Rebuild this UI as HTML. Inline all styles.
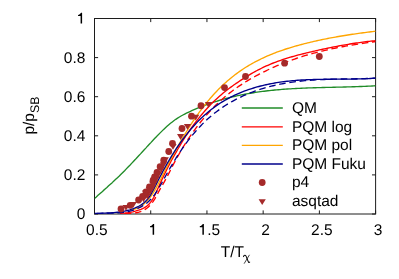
<!DOCTYPE html>
<html><head><meta charset="utf-8"><title>plot</title>
<style>html,body{margin:0;padding:0;background:#fff;overflow:hidden}body{width:399px;height:279px;position:relative;font-family:"Liberation Sans",sans-serif}</style></head>
<body>
<svg width="399" height="279" viewBox="0 0 399 279" style="position:absolute;left:0;top:0">
<filter id="g" x="0" y="0" width="399" height="279" filterUnits="userSpaceOnUse"><feOffset dx="0" dy="0"/></filter>
<rect width="399" height="279" fill="#fff"/>
<g stroke="#1c1c1c" stroke-width="1" fill="none">
<rect x="94.5" y="18.5" width="281.1" height="195.5"/>
<path d="M94.50,214.0 v-3.6 M94.50,18.5 v3.6"/>
<path d="M150.72,214.0 v-3.6 M150.72,18.5 v3.6"/>
<path d="M206.94,214.0 v-3.6 M206.94,18.5 v3.6"/>
<path d="M263.16,214.0 v-3.6 M263.16,18.5 v3.6"/>
<path d="M319.38,214.0 v-3.6 M319.38,18.5 v3.6"/>
<path d="M375.60,214.0 v-3.6 M375.60,18.5 v3.6"/>
<path d="M94.5,214.00 h3.6 M375.6,214.00 h-3.6"/>
<path d="M94.5,174.90 h3.6 M375.6,174.90 h-3.6"/>
<path d="M94.5,135.80 h3.6 M375.6,135.80 h-3.6"/>
<path d="M94.5,96.70 h3.6 M375.6,96.70 h-3.6"/>
<path d="M94.5,57.60 h3.6 M375.6,57.60 h-3.6"/>
<path d="M94.5,18.50 h3.6 M375.6,18.50 h-3.6"/>
</g>
<clipPath id="c"><rect x="94.5" y="18.5" width="281.1" height="196.10"/></clipPath>
<g clip-path="url(#c)" fill="none" stroke-width="1.35" stroke-linejoin="round">
<path d="M94.5,198.46 L96.3,196.89 L98.0,195.33 L99.8,193.77 L101.6,192.20 L103.3,190.63 L105.1,189.05 L106.9,187.46 L108.6,185.86 L110.4,184.25 L112.2,182.63 L113.9,180.98 L115.7,179.32 L117.5,177.65 L119.3,175.94 L121.0,174.22 L122.8,172.47 L124.6,170.69 L126.3,168.89 L128.1,167.06 L129.9,165.22 L131.6,163.36 L133.4,161.48 L135.2,159.58 L136.9,157.68 L138.7,155.77 L140.5,153.85 L142.2,151.93 L144.0,150.01 L145.8,148.09 L147.5,146.17 L149.3,144.26 L151.1,142.36 L152.8,140.46 L154.6,138.59 L156.4,136.73 L158.1,134.91 L159.9,133.11 L161.7,131.36 L163.4,129.64 L165.2,127.98 L167.0,126.37 L168.8,124.82 L170.5,123.33 L172.3,121.92 L174.1,120.58 L175.8,119.32 L177.6,118.15 L179.4,117.04 L181.1,116.00 L182.9,115.02 L184.7,114.09 L186.4,113.20 L188.2,112.35 L190.0,111.52 L191.7,110.72 L193.5,109.93 L195.3,109.16 L197.0,108.41 L198.8,107.68 L200.6,106.96 L202.3,106.27 L204.1,105.59 L205.9,104.93 L207.6,104.28 L209.4,103.65 L211.2,103.04 L213.0,102.44 L214.7,101.87 L216.5,101.30 L218.3,100.75 L220.0,100.22 L221.8,99.70 L223.6,99.20 L225.3,98.71 L227.1,98.24 L228.9,97.78 L230.6,97.34 L232.4,96.90 L234.2,96.49 L235.9,96.08 L237.7,95.69 L239.5,95.31 L241.2,94.94 L243.0,94.59 L244.8,94.25 L246.5,93.91 L248.3,93.60 L250.1,93.29 L251.8,92.99 L253.6,92.71 L255.4,92.43 L257.1,92.17 L258.9,91.91 L260.7,91.67 L262.5,91.43 L264.2,91.21 L266.0,90.99 L267.8,90.78 L269.5,90.58 L271.3,90.39 L273.1,90.21 L274.8,90.04 L276.6,89.87 L278.4,89.71 L280.1,89.56 L281.9,89.42 L283.7,89.28 L285.4,89.15 L287.2,89.03 L289.0,88.91 L290.7,88.80 L292.5,88.69 L294.3,88.59 L296.0,88.50 L297.8,88.41 L299.6,88.32 L301.3,88.24 L303.1,88.16 L304.9,88.09 L306.7,88.02 L308.4,87.95 L310.2,87.89 L312.0,87.83 L313.7,87.77 L315.5,87.72 L317.3,87.67 L319.0,87.62 L320.8,87.57 L322.6,87.53 L324.3,87.48 L326.1,87.44 L327.9,87.40 L329.6,87.35 L331.4,87.31 L333.2,87.27 L334.9,87.23 L336.7,87.19 L338.5,87.15 L340.2,87.11 L342.0,87.07 L343.8,87.02 L345.5,86.98 L347.3,86.93 L349.1,86.88 L350.8,86.83 L352.6,86.77 L354.4,86.72 L356.2,86.66 L357.9,86.60 L359.7,86.53 L361.5,86.46 L363.2,86.39 L365.0,86.32 L366.8,86.23 L368.5,86.15 L370.3,86.06 L372.1,85.97 L373.8,85.87 L375.6,85.76" stroke="#208c28"/>
<path d="M120.0,213.37 L121.6,213.29 L123.2,213.18 L124.8,213.05 L126.4,212.87 L128.0,212.67 L129.6,212.42 L131.3,212.13 L132.9,211.79 L134.5,211.40 L136.1,210.97 L137.7,210.47 L139.3,209.92 L140.9,209.30 L142.5,208.62 L144.1,207.84 L145.7,206.90 L147.3,205.72 L148.9,204.24 L150.5,202.37 L152.2,200.06 L153.8,197.24 L155.4,194.00 L157.0,190.51 L158.6,186.92 L160.2,183.37 L161.8,179.89 L163.4,176.49 L165.0,173.16 L166.6,169.90 L168.2,166.72 L169.8,163.60 L171.4,160.55 L173.0,157.57 L174.7,154.65 L176.3,151.80 L177.9,149.01 L179.5,146.29 L181.1,143.63 L182.7,141.02 L184.3,138.48 L185.9,135.99 L187.5,133.57 L189.1,131.20 L190.7,128.89 L192.3,126.63 L193.9,124.43 L195.6,122.28 L197.2,120.18 L198.8,118.14 L200.4,116.15 L202.0,114.21 L203.6,112.33 L205.2,110.49 L206.8,108.70 L208.4,106.96 L210.0,105.26 L211.6,103.62 L213.2,102.01 L214.8,100.46 L216.5,98.95 L218.1,97.48 L219.7,96.05 L221.3,94.67 L222.9,93.32 L224.5,92.02 L226.1,90.75 L227.7,89.50 L229.3,88.29 L230.9,87.11 L232.5,85.95 L234.1,84.80 L235.7,83.68 L237.4,82.58 L239.0,81.49 L240.6,80.41 L242.2,79.36 L243.8,78.32 L245.4,77.30 L247.0,76.30 L248.6,75.31 L250.2,74.35 L251.8,73.41 L253.4,72.49 L255.0,71.60 L256.6,70.72 L258.2,69.87 L259.9,69.05 L261.5,68.24 L263.1,67.46 L264.7,66.71 L266.3,65.97 L267.9,65.26 L269.5,64.57 L271.1,63.90 L272.7,63.25 L274.3,62.62 L275.9,62.01 L277.5,61.41 L279.1,60.83 L280.8,60.27 L282.4,59.73 L284.0,59.19 L285.6,58.68 L287.2,58.17 L288.8,57.68 L290.4,57.20 L292.0,56.74 L293.6,56.28 L295.2,55.84 L296.8,55.40 L298.4,54.97 L300.0,54.55 L301.7,54.14 L303.3,53.73 L304.9,53.34 L306.5,52.94 L308.1,52.55 L309.7,52.17 L311.3,51.79 L312.9,51.41 L314.5,51.04 L316.1,50.67 L317.7,50.31 L319.3,49.95 L320.9,49.59 L322.6,49.24 L324.2,48.89 L325.8,48.55 L327.4,48.22 L329.0,47.89 L330.6,47.56 L332.2,47.24 L333.8,46.92 L335.4,46.61 L337.0,46.30 L338.6,46.00 L340.2,45.70 L341.8,45.41 L343.4,45.13 L345.1,44.85 L346.7,44.57 L348.3,44.30 L349.9,44.04 L351.5,43.78 L353.1,43.53 L354.7,43.28 L356.3,43.04 L357.9,42.81 L359.5,42.58 L361.1,42.36 L362.7,42.14 L364.3,41.93 L366.0,41.73 L367.6,41.53 L369.2,41.34 L370.8,41.15 L372.4,40.97 L374.0,40.80 L375.6,40.63" stroke="#ff0000"/>
<path d="M123.0,213.34 L124.6,213.37 L126.2,213.39 L127.8,213.40 L129.4,213.38 L130.9,213.32 L132.5,213.21 L134.1,213.05 L135.7,212.81 L137.3,212.49 L138.9,212.09 L140.5,211.58 L142.1,210.97 L143.7,210.23 L145.2,209.33 L146.8,208.24 L148.4,206.94 L150.0,205.38 L151.6,203.53 L153.2,201.36 L154.8,198.84 L156.4,195.97 L158.0,193.00 L159.5,190.15 L161.1,187.40 L162.7,184.65 L164.3,181.81 L165.9,178.88 L167.5,175.88 L169.1,172.83 L170.7,169.76 L172.2,166.68 L173.8,163.63 L175.4,160.62 L177.0,157.68 L178.6,154.82 L180.2,152.04 L181.8,149.34 L183.4,146.71 L185.0,144.15 L186.5,141.66 L188.1,139.23 L189.7,136.86 L191.3,134.54 L192.9,132.28 L194.5,130.08 L196.1,127.92 L197.7,125.82 L199.3,123.77 L200.8,121.77 L202.4,119.81 L204.0,117.91 L205.6,116.05 L207.2,114.24 L208.8,112.47 L210.4,110.75 L212.0,109.07 L213.6,107.43 L215.1,105.83 L216.7,104.27 L218.3,102.76 L219.9,101.28 L221.5,99.83 L223.1,98.43 L224.7,97.06 L226.3,95.72 L227.9,94.42 L229.4,93.15 L231.0,91.91 L232.6,90.70 L234.2,89.53 L235.8,88.38 L237.4,87.26 L239.0,86.16 L240.6,85.09 L242.2,84.05 L243.7,83.03 L245.3,82.04 L246.9,81.06 L248.5,80.11 L250.1,79.18 L251.7,78.26 L253.3,77.37 L254.9,76.49 L256.4,75.63 L258.0,74.78 L259.6,73.95 L261.2,73.14 L262.8,72.33 L264.4,71.54 L266.0,70.77 L267.6,70.01 L269.2,69.26 L270.7,68.53 L272.3,67.81 L273.9,67.10 L275.5,66.41 L277.1,65.73 L278.7,65.06 L280.3,64.41 L281.9,63.76 L283.5,63.13 L285.0,62.51 L286.6,61.90 L288.2,61.31 L289.8,60.72 L291.4,60.15 L293.0,59.59 L294.6,59.04 L296.2,58.50 L297.8,57.97 L299.3,57.45 L300.9,56.94 L302.5,56.44 L304.1,55.95 L305.7,55.47 L307.3,55.00 L308.9,54.54 L310.5,54.09 L312.1,53.65 L313.6,53.22 L315.2,52.79 L316.8,52.38 L318.4,51.97 L320.0,51.57 L321.6,51.18 L323.2,50.80 L324.8,50.43 L326.4,50.06 L327.9,49.70 L329.5,49.35 L331.1,49.00 L332.7,48.66 L334.3,48.33 L335.9,48.01 L337.5,47.69 L339.1,47.38 L340.6,47.07 L342.2,46.77 L343.8,46.47 L345.4,46.18 L347.0,45.90 L348.6,45.62 L350.2,45.35 L351.8,45.08 L353.4,44.82 L354.9,44.56 L356.5,44.30 L358.1,44.05 L359.7,43.80 L361.3,43.56 L362.9,43.32 L364.5,43.09 L366.1,42.86 L367.7,42.63 L369.2,42.40 L370.8,42.18 L372.4,41.96 L374.0,41.74 L375.6,41.52" stroke="#ff0000" stroke-dasharray="6.6,3.7" stroke-dashoffset="-1.7"/>
<path d="M130.0,210.21 L131.5,209.89 L133.1,209.51 L134.6,209.06 L136.2,208.51 L137.7,207.87 L139.3,207.11 L140.8,206.21 L142.4,205.17 L143.9,203.98 L145.4,202.61 L147.0,201.08 L148.5,199.35 L150.1,197.43 L151.6,195.30 L153.2,192.97 L154.7,190.41 L156.3,187.68 L157.8,184.80 L159.3,181.81 L160.9,178.75 L162.4,175.65 L164.0,172.56 L165.5,169.49 L167.1,166.47 L168.6,163.48 L170.2,160.53 L171.7,157.62 L173.3,154.74 L174.8,151.90 L176.3,149.10 L177.9,146.33 L179.4,143.60 L181.0,140.90 L182.5,138.24 L184.1,135.62 L185.6,133.04 L187.2,130.50 L188.7,128.01 L190.2,125.56 L191.8,123.16 L193.3,120.81 L194.9,118.51 L196.4,116.26 L198.0,114.07 L199.5,111.92 L201.1,109.82 L202.6,107.78 L204.1,105.78 L205.7,103.83 L207.2,101.93 L208.8,100.07 L210.3,98.26 L211.9,96.49 L213.4,94.76 L215.0,93.08 L216.5,91.44 L218.0,89.84 L219.6,88.29 L221.1,86.77 L222.7,85.29 L224.2,83.85 L225.8,82.45 L227.3,81.08 L228.9,79.75 L230.4,78.46 L231.9,77.20 L233.5,75.97 L235.0,74.78 L236.6,73.62 L238.1,72.49 L239.7,71.39 L241.2,70.32 L242.8,69.28 L244.3,68.27 L245.8,67.28 L247.4,66.32 L248.9,65.39 L250.5,64.48 L252.0,63.60 L253.6,62.74 L255.1,61.90 L256.7,61.09 L258.2,60.30 L259.8,59.52 L261.3,58.77 L262.8,58.04 L264.4,57.32 L265.9,56.63 L267.5,55.95 L269.0,55.29 L270.6,54.64 L272.1,54.01 L273.7,53.40 L275.2,52.80 L276.7,52.22 L278.3,51.65 L279.8,51.10 L281.4,50.55 L282.9,50.03 L284.5,49.51 L286.0,49.00 L287.6,48.51 L289.1,48.03 L290.6,47.56 L292.2,47.09 L293.7,46.64 L295.3,46.20 L296.8,45.76 L298.4,45.33 L299.9,44.91 L301.5,44.50 L303.0,44.09 L304.5,43.69 L306.1,43.30 L307.6,42.92 L309.2,42.54 L310.7,42.17 L312.3,41.80 L313.8,41.44 L315.4,41.09 L316.9,40.75 L318.4,40.41 L320.0,40.07 L321.5,39.74 L323.1,39.42 L324.6,39.11 L326.2,38.80 L327.7,38.49 L329.3,38.19 L330.8,37.90 L332.3,37.61 L333.9,37.33 L335.4,37.05 L337.0,36.78 L338.5,36.51 L340.1,36.24 L341.6,35.98 L343.2,35.73 L344.7,35.48 L346.3,35.23 L347.8,34.99 L349.3,34.75 L350.9,34.52 L352.4,34.29 L354.0,34.06 L355.5,33.84 L357.1,33.62 L358.6,33.41 L360.2,33.19 L361.7,32.99 L363.2,32.78 L364.8,32.58 L366.3,32.38 L367.9,32.18 L369.4,31.99 L371.0,31.79 L372.5,31.61 L374.1,31.42 L375.6,31.23" stroke="#ffa500"/>
<path d="M94.5,213.53 L96.3,213.44 L98.0,213.36 L99.8,213.30 L101.6,213.23 L103.3,213.17 L105.1,213.10 L106.9,213.02 L108.6,212.94 L110.4,212.84 L112.2,212.72 L113.9,212.58 L115.7,212.42 L117.5,212.23 L119.3,212.01 L121.0,211.75 L122.8,211.45 L124.6,211.11 L126.3,210.72 L128.1,210.28 L129.9,209.78 L131.6,209.22 L133.4,208.59 L135.2,207.89 L136.9,207.11 L138.7,206.25 L140.5,205.27 L142.2,204.11 L144.0,202.73 L145.8,201.08 L147.5,199.11 L149.3,196.77 L151.1,194.03 L152.8,190.90 L154.6,187.46 L156.4,183.91 L158.1,180.41 L159.9,176.97 L161.7,173.61 L163.4,170.31 L165.2,167.08 L167.0,163.93 L168.8,160.86 L170.5,157.87 L172.3,154.97 L174.1,152.15 L175.8,149.41 L177.6,146.75 L179.4,144.17 L181.1,141.67 L182.9,139.24 L184.7,136.89 L186.4,134.61 L188.2,132.40 L190.0,130.26 L191.7,128.19 L193.5,126.19 L195.3,124.25 L197.0,122.38 L198.8,120.57 L200.6,118.83 L202.3,117.14 L204.1,115.51 L205.9,113.94 L207.6,112.43 L209.4,110.97 L211.2,109.56 L213.0,108.20 L214.7,106.90 L216.5,105.64 L218.3,104.43 L220.0,103.27 L221.8,102.15 L223.6,101.07 L225.3,100.04 L227.1,99.04 L228.9,98.09 L230.6,97.17 L232.4,96.29 L234.2,95.44 L235.9,94.62 L237.7,93.84 L239.5,93.09 L241.2,92.36 L243.0,91.67 L244.8,90.99 L246.5,90.35 L248.3,89.73 L250.1,89.13 L251.8,88.55 L253.6,88.00 L255.4,87.47 L257.1,86.96 L258.9,86.48 L260.7,86.01 L262.5,85.57 L264.2,85.14 L266.0,84.74 L267.8,84.35 L269.5,83.99 L271.3,83.64 L273.1,83.31 L274.8,83.00 L276.6,82.70 L278.4,82.42 L280.1,82.15 L281.9,81.90 L283.7,81.67 L285.4,81.45 L287.2,81.24 L289.0,81.05 L290.7,80.87 L292.5,80.70 L294.3,80.55 L296.0,80.40 L297.8,80.27 L299.6,80.15 L301.3,80.04 L303.1,79.93 L304.9,79.84 L306.7,79.75 L308.4,79.68 L310.2,79.61 L312.0,79.55 L313.7,79.49 L315.5,79.44 L317.3,79.40 L319.0,79.36 L320.8,79.33 L322.6,79.30 L324.3,79.28 L326.1,79.26 L327.9,79.24 L329.6,79.23 L331.4,79.21 L333.2,79.20 L334.9,79.19 L336.7,79.18 L338.5,79.17 L340.2,79.16 L342.0,79.15 L343.8,79.13 L345.5,79.12 L347.3,79.10 L349.1,79.08 L350.8,79.06 L352.6,79.03 L354.4,79.00 L356.2,78.97 L357.9,78.93 L359.7,78.88 L361.5,78.83 L363.2,78.77 L365.0,78.71 L366.8,78.63 L368.5,78.55 L370.3,78.46 L372.1,78.36 L373.8,78.25 L375.6,78.14" stroke="#00008b"/>
<path d="M94.5,213.55 L96.3,213.46 L98.0,213.39 L99.8,213.34 L101.6,213.31 L103.3,213.29 L105.1,213.27 L106.9,213.25 L108.6,213.23 L110.4,213.20 L112.2,213.16 L113.9,213.10 L115.7,213.02 L117.5,212.92 L119.3,212.78 L121.0,212.61 L122.8,212.40 L124.6,212.14 L126.3,211.84 L128.1,211.48 L129.9,211.06 L131.6,210.59 L133.4,210.04 L135.2,209.43 L136.9,208.74 L138.7,207.97 L140.5,207.11 L142.2,206.15 L144.0,205.06 L145.8,203.82 L147.5,202.41 L149.3,200.80 L151.1,198.97 L152.8,196.90 L154.6,194.57 L156.4,191.97 L158.1,189.17 L159.9,186.20 L161.7,183.10 L163.4,179.93 L165.2,176.72 L167.0,173.52 L168.8,170.37 L170.5,167.29 L172.3,164.28 L174.1,161.34 L175.8,158.48 L177.6,155.68 L179.4,152.96 L181.1,150.30 L182.9,147.73 L184.7,145.23 L186.4,142.80 L188.2,140.45 L190.0,138.17 L191.7,135.96 L193.5,133.82 L195.3,131.75 L197.0,129.75 L198.8,127.81 L200.6,125.93 L202.3,124.12 L204.1,122.37 L205.9,120.68 L207.6,119.04 L209.4,117.46 L211.2,115.94 L213.0,114.47 L214.7,113.04 L216.5,111.67 L218.3,110.35 L220.0,109.07 L221.8,107.84 L223.6,106.65 L225.3,105.50 L227.1,104.39 L228.9,103.32 L230.6,102.29 L232.4,101.30 L234.2,100.33 L235.9,99.40 L237.7,98.50 L239.5,97.63 L241.2,96.79 L243.0,95.97 L244.8,95.18 L246.5,94.42 L248.3,93.68 L250.1,92.97 L251.8,92.28 L253.6,91.61 L255.4,90.97 L257.1,90.35 L258.9,89.75 L260.7,89.17 L262.5,88.62 L264.2,88.09 L266.0,87.57 L267.8,87.08 L269.5,86.61 L271.3,86.16 L273.1,85.73 L274.8,85.31 L276.6,84.92 L278.4,84.54 L280.1,84.18 L281.9,83.83 L283.7,83.51 L285.4,83.19 L287.2,82.90 L289.0,82.62 L290.7,82.35 L292.5,82.10 L294.3,81.86 L296.0,81.63 L297.8,81.42 L299.6,81.22 L301.3,81.03 L303.1,80.86 L304.9,80.69 L306.7,80.54 L308.4,80.39 L310.2,80.26 L312.0,80.13 L313.7,80.02 L315.5,79.91 L317.3,79.81 L319.0,79.72 L320.8,79.63 L322.6,79.55 L324.3,79.48 L326.1,79.42 L327.9,79.36 L329.6,79.30 L331.4,79.25 L333.2,79.20 L334.9,79.16 L336.7,79.12 L338.5,79.08 L340.2,79.05 L342.0,79.02 L343.8,78.98 L345.5,78.95 L347.3,78.92 L349.1,78.90 L350.8,78.87 L352.6,78.84 L354.4,78.80 L356.2,78.77 L357.9,78.73 L359.7,78.70 L361.5,78.66 L363.2,78.61 L365.0,78.56 L366.8,78.51 L368.5,78.46 L370.3,78.39 L372.1,78.33 L373.8,78.25 L375.6,78.17" stroke="#00008b" stroke-dasharray="6.6,3.7" stroke-dashoffset="-2.3"/>
</g>
<g fill="#a52a2a">
<circle cx="121" cy="209" r="3.4"/>
<circle cx="130.2" cy="205.3" r="3.4"/>
<circle cx="138.6" cy="200" r="3.4"/>
<circle cx="142.6" cy="196.3" r="3.4"/>
<circle cx="146" cy="192" r="3.4"/>
<circle cx="149.5" cy="187" r="3.4"/>
<circle cx="153.1" cy="180.2" r="3.4"/>
<circle cx="154.6" cy="176.8" r="3.4"/>
<circle cx="157" cy="172.5" r="3.4"/>
<circle cx="160.1" cy="166.7" r="3.4"/>
<circle cx="163.75" cy="160.25" r="3.4"/>
<circle cx="168.75" cy="151.5" r="3.4"/>
<circle cx="172.5" cy="143.5" r="3.4"/>
<circle cx="182" cy="128.5" r="3.4"/>
<circle cx="191.5" cy="116.2" r="3.4"/>
<circle cx="201" cy="105.75" r="3.4"/>
<circle cx="224.5" cy="87.6" r="3.4"/>
<circle cx="245.5" cy="76.5" r="3.4"/>
<circle cx="284.6" cy="63.2" r="3.4"/>
<circle cx="319.3" cy="56.5" r="3.4"/>
<path d="M122.40,205.00 L129.60,205.00 L126.00,210.80 Z"/>
<path d="M129.60,202.00 L136.80,202.00 L133.20,207.80 Z"/>
<path d="M139.90,196.40 L147.10,196.40 L143.50,202.20 Z"/>
<path d="M143.70,193.60 L150.90,193.60 L147.30,199.40 Z"/>
<path d="M146.40,189.30 L153.60,189.30 L150.00,195.10 Z"/>
<path d="M148.80,185.00 L156.00,185.00 L152.40,190.80 Z"/>
<path d="M151.00,180.30 L158.20,180.30 L154.60,186.10 Z"/>
<path d="M153.00,175.80 L160.20,175.80 L156.60,181.60 Z"/>
<path d="M155.10,171.30 L162.30,171.30 L158.70,177.10 Z"/>
<path d="M157.70,166.80 L164.90,166.80 L161.30,172.60 Z"/>
<path d="M159.90,162.30 L167.10,162.30 L163.50,168.10 Z"/>
<path d="M161.70,157.20 L168.90,157.20 L165.30,163.00 Z"/>
<path d="M142.00,190.60 L149.20,190.60 L145.60,196.40 Z"/>
<path d="M145.70,187.00 L152.90,187.00 L149.30,192.80 Z"/>
<path d="M149.00,181.50 L156.20,181.50 L152.60,187.30 Z"/>
<path d="M169.40,143.90 L176.60,143.90 L173.00,149.70 Z"/>
<path d="M177.00,134.10 L184.20,134.10 L180.60,139.90 Z"/>
<path d="M183.90,124.00 L191.10,124.00 L187.50,129.80 Z"/>
<path d="M192.10,114.80 L199.30,114.80 L195.70,120.60 Z"/>
<path d="M204.90,102.00 L212.10,102.00 L208.50,107.80 Z"/>
</g>
<path d="M241.8,108.0 H282.8" stroke="#208c28" stroke-width="1.35"/>
<path d="M241.8,126.8 H282.8" stroke="#ff0000" stroke-width="1.35"/>
<path d="M241.8,145.3 H282.8" stroke="#ffa500" stroke-width="1.35"/>
<path d="M241.8,164.0 H282.8" stroke="#00008b" stroke-width="1.35"/>
<circle cx="262.2" cy="182.5" r="3.4" fill="#a52a2a"/>
<path d="M258.60,199.20 L265.80,199.20 L262.20,205.00 Z" fill="#a52a2a"/>
<g font-family="Liberation Sans, sans-serif" font-size="15.5px" fill="#000" text-rendering="geometricPrecision" filter="url(#g)">
<text x="291.9" y="112.9">QM</text>
<text x="291.9" y="131.5">PQM log</text>
<text x="291.9" y="150.1">PQM pol</text>
<text x="291.9" y="168.7">PQM Fuku</text>
<text x="291.9" y="187.3">p4</text>
<text x="291.9" y="205.9">asqtad</text>
<text x="85.4" y="219.1" text-anchor="end">0</text>
<text x="85.4" y="180.0" text-anchor="end">0.2</text>
<text x="85.4" y="140.9" text-anchor="end">0.4</text>
<text x="85.4" y="101.8" text-anchor="end">0.6</text>
<text x="85.4" y="62.7" text-anchor="end">0.8</text>
<text x="96.9" y="234.8" text-anchor="middle">0.5</text>
<text x="207.19" y="234.8">.5</text>
<text x="265.6" y="234.8" text-anchor="middle">2</text>
<text x="321.8" y="234.8" text-anchor="middle">2.5</text>
<text x="378.0" y="234.8" text-anchor="middle">3</text>
<text x="220.8" y="256.5">T/T</text>
<g transform="translate(246.6,259.2) scale(0.92) translate(-246.6,-259.2)">
<path d="M243.3,256.4 C243.6,255.2 244.5,254.6 245.3,255.0 C245.9,255.4 246.2,256.2 246.6,257.3 L248.4,261.8 C248.7,262.7 249.3,263.2 250.0,262.3" fill="none" stroke="#000" stroke-width="1.1" stroke-linecap="round"/>
<path d="M249.5,254.8 L244.1,263.7" fill="none" stroke="#000" stroke-width="0.8" stroke-linecap="round"/>
</g>
<text transform="translate(33.5,134.6) rotate(-90)">p/p<tspan font-size="12.4px" dy="5.6">SB</tspan></text>
</g>
<path d="M82.10,12.70 L82.10,23.60 L80.60,23.60 L80.60,15.95 L78.05,15.95 L78.05,14.90 C79.30,14.85 80.25,13.90 81.05,12.70 Z M154.13,223.90 L154.13,234.80 L152.63,234.80 L152.63,227.15 L150.08,227.15 L150.08,226.10 C151.33,226.05 152.28,225.10 153.08,223.90 Z M203.88,223.90 L203.88,234.80 L202.38,234.80 L202.38,227.15 L199.83,227.15 L199.83,226.10 C201.08,226.05 202.03,225.10 202.83,223.90 Z" fill="#000"/>
</svg>
</body></html>
